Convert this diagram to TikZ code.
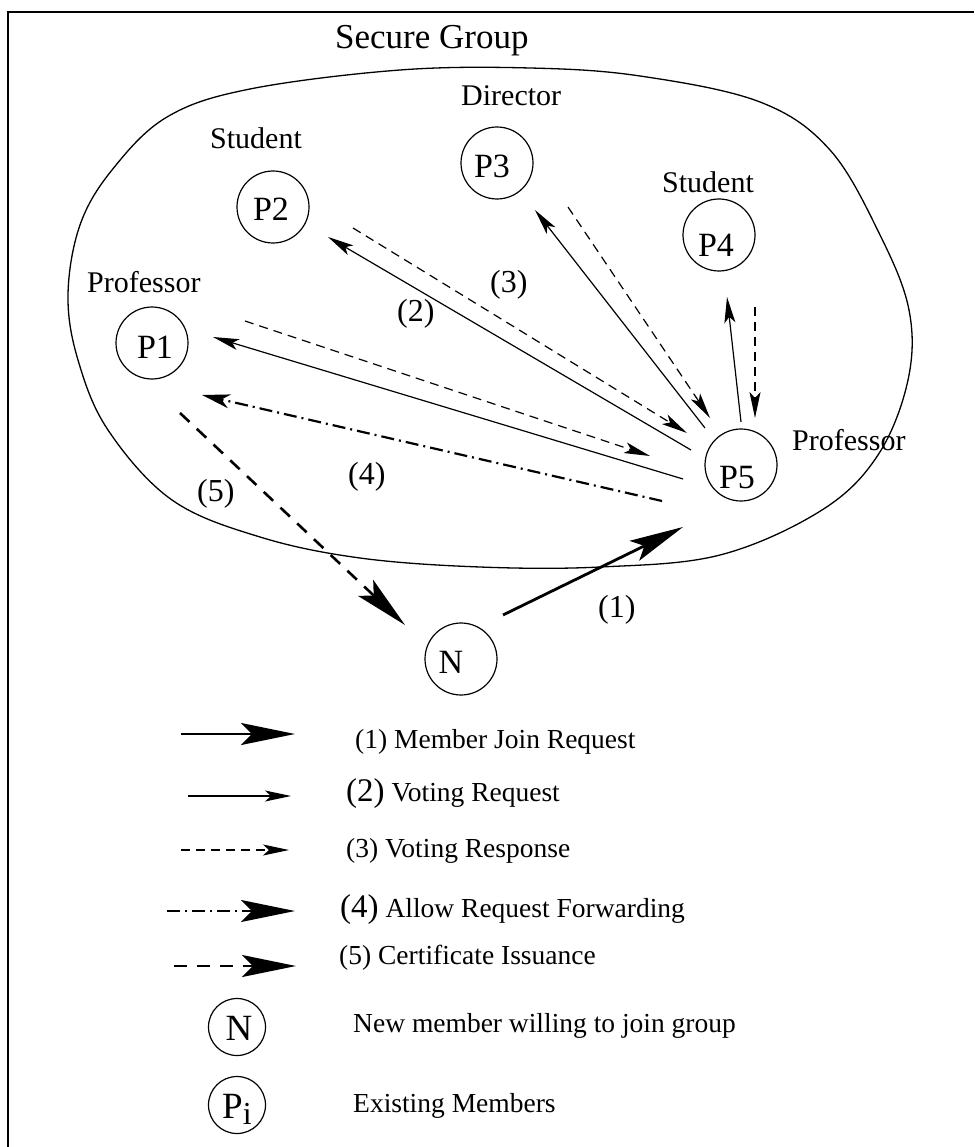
\documentclass[tikz,border=0pt]{standalone}
\usepackage{fontspec}
\setmainfont{Liberation Serif}
\usetikzlibrary{arrows.meta,calc}
\newcommand\fsz[1]{\fontsize{#1}{#1}\selectfont}

\begin{document}
\begin{tikzpicture}[x=1pt,y=-1pt,
  Small/.tip={Stealth[length=26pt,width=11pt,inset=6pt]},
  Mid/.tip={Stealth[length=28pt,width=14pt,inset=8pt]},
  Big/.tip={Stealth[length=54pt,width=22pt,inset=11pt]},
  member/.style={draw, circle, line width=1.2pt, minimum size=72pt, inner sep=0pt},
  keymember/.style={draw, circle, line width=1.2pt, minimum size=57pt, inner sep=0pt},
  tagtext/.style={anchor=base, inner sep=0pt, font=\fsz{34}},
  roletext/.style={anchor=base west, inner sep=0pt, font=\fsz{30}},
  stepno/.style={anchor=base west, inner sep=0pt, font=\fsz{32}},
  keytext/.style={anchor=base west, inner sep=0pt, font=\fsz{27.5}},
  reqline/.style={line width=1.2pt, -{Small}},
  respline/.style={line width=1.2pt, dash pattern=on 9pt off 6pt, -{Small}},
  joinline/.style={line width=2.8pt, -{Big}},
  fwdline/.style={line width=2.2pt, dash pattern=on 13pt off 5pt on 2pt off 5pt},
  issueline/.style={line width=2.6pt, dash pattern=on 13pt off 10pt, -{Big}}
]
\useasboundingbox (0,0) rectangle (974,1147);

% outer frame
\draw[line width=1.5pt] (8,1147) -- (8,12) -- (974,12);

% group boundary
\draw[line width=1.3pt] plot[smooth cycle, tension=0.6] coordinates {
  (68,295) (80,225) (112,170) (167,117) (250,89) (400,70) (530,68)
  (640,76) (760,102) (830,150) (880,235) (909,310) (908,380) (878,455)
  (822,510) (720,555) (600,567) (480,567) (360,558) (260,537) (172,500)
  (108,430) (78,360)};
\node[anchor=base west, inner sep=0pt, font=\fsz{35}] (title) at (335,49) {Secure Group};

% members
\node[member] (p1) at (152,343) {};
\node[member] (p2) at (273,207) {};
\node[member] (p3) at (497,163) {};
\node[member] (p4) at (719,235) {};
\node[member] (p5) at (741,465) {};
\node[member] (n)  at (461,659) {};

\node[tagtext] (p1t) at (155,358) {P1};
\node[tagtext] (p2t) at (271,221) {P2};
\node[tagtext] (p3t) at (492,178) {P3};
\node[tagtext] (p4t) at (716,257) {P4};
\node[tagtext] (p5t) at (737,488) {P5};
\node[tagtext] (nt)  at (451,673) {N};

% roles
\node[roletext] (r1) at (87,293)  {Professor};
\node[roletext] (r2) at (210,149) {Student};
\node[roletext] (r3) at (461,106) {Director};
\node[roletext] (r4) at (662,193) {Student};
\node[roletext] (r5) at (792,450) {Professor};

% voting requests and responses
\draw[reqline]  ($(p5)+(-58,14)$)  -- ($(p1)+(61,-6)$);
\draw[respline] ($(p1)+(93,-22)$)  -- ($(p5)+(-91,-9)$);
\draw[reqline]  ($(p5)+(-50,-15)$) -- ($(p2)+(55,30)$);
\draw[respline] ($(p2)+(80,21)$)   -- ($(p5)+(-54,-32)$);
\draw[reqline]  ($(p5)+(-36,-37)$) -- ($(p3)+(38,47)$);
\draw[respline] ($(p3)+(71,44)$)   -- ($(p5)+(-31,-47)$);
\draw[reqline]  ($(p5)+(0,-43)$)   -- ($(p4)+(8,62)$);
\draw[respline] ($(p4)+(36,72)$)   -- ($(p5)+(14,-47)$);

% forwarding, issuance, join
\draw[fwdline, -{Mid}] ($(p5)+(-79,36)$) -- ($(p1)+(50,52)$);
\draw[issueline] ($(p1)+(28,70)$) -- ($(n)+(-56,-34)$);
\draw[joinline]  ($(n)+(42,-44)$) -- ($(p5)+(-58,62)$);

% step numbers
\node[stepno] (s1) at (598,617) {(1)};
\node[stepno] (s2) at (397,321) {(2)};
\node[stepno] (s3) at (490,292) {(3)};
\node[stepno] (s4) at (348,484) {(4)};
\node[stepno] (s5) at (197,501) {(5)};

% key
\coordinate (k1a) at (181,734); \coordinate (k1b) at (295,734);
\coordinate (k2a) at (188,796); \coordinate (k2b) at (291,796);
\coordinate (k3a) at (181,850); \coordinate (k3b) at (289,850);
\coordinate (k4a) at (167,911); \coordinate (k4b) at (295,911);
\coordinate (k5a) at (174,966); \coordinate (k5b) at (296,966);
\draw[joinline]  (k1a) -- (k1b);
\draw[reqline]   (k2a) -- (k2b);
\draw[respline]  (k3a) -- (k3b);
\draw[fwdline, -{Big}] (k4a) -- (k4b);
\draw[issueline] (k5a) -- (k5b);

\node[keytext] (t1) at (355,748) {(1) Member Join Request};
\node[keytext] (t2) at (346,801) {{\fsz{33}(2)} Voting Request};
\node[keytext] (t3) at (346,857) {(3) Voting Response};
\node[keytext] (t4) at (340,917) {{\fsz{33}(4)} Allow Request Forwarding};
\node[keytext] (t5) at (339,964) {(5) Certificate Issuance};

\node[keymember] (kn) at (237,1027) {};
\node[anchor=base, inner sep=0pt, font=\fsz{37}] (knt) at (239,1040) {N};
\node[keytext] (t6) at (353,1032) {New member willing to join group};

\node[keymember] (kp) at (237,1105) {};
\node[anchor=base west, inner sep=0pt, font=\fsz{37}] (kpt) at (222,1118) {P\raisebox{-6pt}{\fsz{32}i}};
\node[keytext] (t7) at (353,1112) {Existing Members};
\end{tikzpicture}
\end{document}
